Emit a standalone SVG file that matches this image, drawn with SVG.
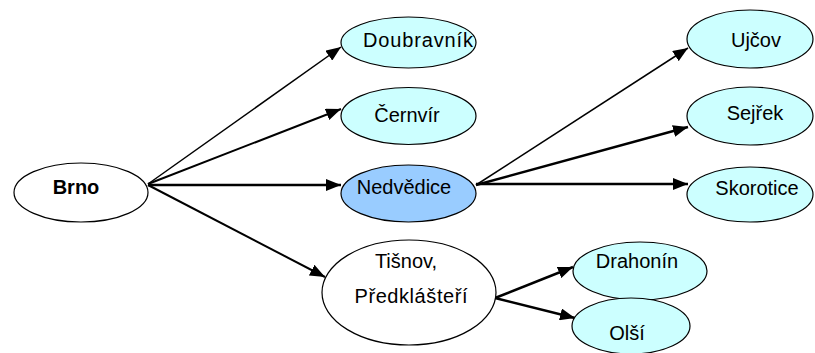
<svg xmlns="http://www.w3.org/2000/svg" width="815" height="353" viewBox="0 0 815 353">
<style>
.n{stroke:#000;stroke-width:1.2}
.c{fill:#CCFFFF}
.w{fill:#FFFFFF}
.b{fill:#99CCFF}
text{font-family:"Liberation Sans",Arial,sans-serif;font-size:20px;fill:#000;text-anchor:middle}
.bold{font-weight:bold}
.e{stroke:#000;fill:none}
</style>
<defs>
<marker id="ah" markerUnits="userSpaceOnUse" markerWidth="16" markerHeight="12" refX="15" refY="6" orient="auto">
<path d="M0,0 L15,6 L0,12 Z" fill="#000"/>
</marker>
</defs>
<rect width="815" height="353" fill="#fff"/>
<g id="connectors">
<line class="e" x1="148" y1="184" x2="341" y2="47" stroke-width="1.5" marker-end="url(#ah)"/>
<line class="e" x1="148" y1="184" x2="341" y2="109" stroke-width="2" marker-end="url(#ah)"/>
<line class="e" x1="148" y1="185" x2="341" y2="185" stroke-width="2.5" marker-end="url(#ah)"/>
<line class="e" x1="148" y1="185" x2="325" y2="277" stroke-width="2" marker-end="url(#ah)"/>
<line class="e" x1="476" y1="185" x2="688" y2="48" stroke-width="1.5" marker-end="url(#ah)"/>
<line class="e" x1="476" y1="185" x2="688" y2="127" stroke-width="2.5" marker-end="url(#ah)"/>
<line class="e" x1="476" y1="184" x2="688" y2="184" stroke-width="2.5" marker-end="url(#ah)"/>
<line class="e" x1="495" y1="298" x2="573" y2="267" stroke-width="2.5" marker-end="url(#ah)"/>
<line class="e" x1="495" y1="298" x2="575" y2="318" stroke-width="2.5" marker-end="url(#ah)"/>
</g>
<g id="brno">
<ellipse class="n w" cx="81" cy="192.5" rx="67" ry="29.5"/>
<text class="bold" x="76" y="194">Brno</text>
</g>
<g id="doubravnik">
<ellipse class="n c" cx="408.5" cy="42.5" rx="67.5" ry="25.5"/>
<text x="418" y="47" textLength="110" lengthAdjust="spacing">Doubravník</text>
</g>
<g id="cernvir">
<ellipse class="n c" cx="408.5" cy="116" rx="67.5" ry="28.5"/>
<text x="407" y="122">Černvír</text>
</g>
<g id="nedvedice">
<ellipse class="n b" cx="408.5" cy="193.5" rx="67.5" ry="28.5"/>
<text x="404" y="194">Nedvědice</text>
</g>
<g id="tisnov">
<ellipse class="n w" cx="409" cy="292.5" rx="87" ry="52.5"/>
<text x="406" y="268">Tišnov,</text>
<text x="411" y="303" textLength="113" lengthAdjust="spacing">Předklášteří</text>
</g>
<g id="ujcov">
<ellipse class="n c" cx="750" cy="39" rx="63" ry="29"/>
<text x="756" y="47">Ujčov</text>
</g>
<g id="sejrek">
<ellipse class="n c" cx="750" cy="116" rx="63" ry="29"/>
<text x="755" y="120">Sejřek</text>
</g>
<g id="skorotice">
<ellipse class="n c" cx="750" cy="194.5" rx="63" ry="27.5"/>
<text x="757" y="195">Skorotice</text>
</g>
<g id="drahonin">
<ellipse class="n c" cx="640" cy="271" rx="67" ry="29"/>
<text x="637" y="268">Drahonín</text>
</g>
<g id="olsi">
<ellipse class="n c" cx="631" cy="326" rx="59" ry="28"/>
<text x="627" y="340">Olší</text>
</g>
</svg>
